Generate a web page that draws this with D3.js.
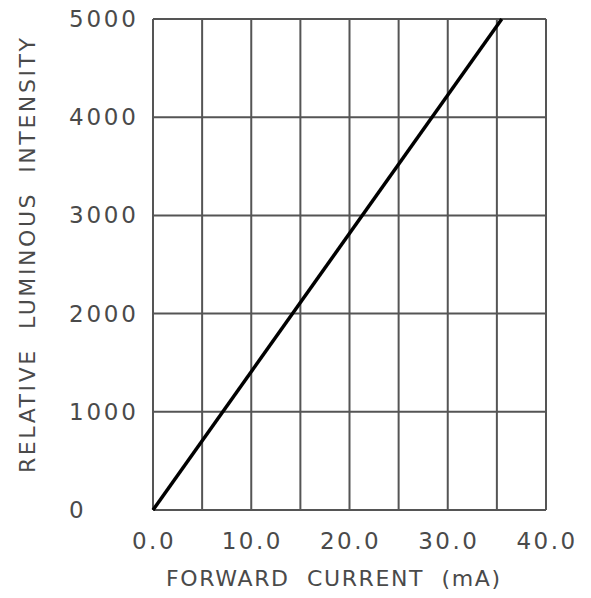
<!DOCTYPE html>
<html>
<head>
<meta charset="utf-8">
<script src="https://cdn.jsdelivr.net/npm/d3@7"></script>
<style>
  body { margin: 0; background: #fff; }
  text { font-family: "DejaVu Sans", sans-serif; fill: #4a4a4a; white-space: pre; }
</style>
</head>
<body>
<svg id="chart" width="591" height="598"></svg>
<script>
// forward current (mA) vs relative luminous intensity
let currents = [0, 35.5]
let intensities = [0, 5000]

let xTicks = [0, 10, 20, 30, 40]
let xGrid = [0, 5, 10, 15, 20, 25, 30, 35, 40]
let yTicks = [0, 1000, 2000, 3000, 4000, 5000]

let xTitle = "FORWARD  CURRENT  (mA)"
let yTitle = "RELATIVE  LUMINOUS  INTENSITY"

let svg = d3.select("#chart")

let margin = {left: 153, right: 45, top: 19, bottom: 88}
let width = 591 - margin.left - margin.right
let height = 598 - margin.top - margin.bottom

let xScale = d3.scaleLinear([0, 40], [margin.left, margin.left + width])
let yScale = d3.scaleLinear([0, 5000], [margin.top + height, margin.top])

// grid
svg.selectAll(".vgrid")
    .data(xGrid)
    .enter()
    .append("line")
    .attr("x1", d => xScale(d))
    .attr("x2", d => xScale(d))
    .attr("y1", yScale(0))
    .attr("y2", yScale(5000))
    .attr("stroke", "#555")
    .attr("stroke-width", 2)

svg.selectAll(".hgrid")
    .data(yTicks)
    .enter()
    .append("line")
    .attr("x1", xScale(0))
    .attr("x2", xScale(40))
    .attr("y1", d => yScale(d))
    .attr("y2", d => yScale(d))
    .attr("stroke", "#555")
    .attr("stroke-width", 2)

// tick labels
svg.selectAll(".xlab")
    .data(xTicks)
    .enter()
    .append("text")
    .attr("x", d => xScale(d) + 1)
    .attr("y", 549)
    .attr("text-anchor", "middle")
    .attr("font-size", 23)
    .attr("letter-spacing", 2.5)
    .text(d => d.toFixed(1))

svg.selectAll(".ylab")
    .data(yTicks)
    .enter()
    .append("text")
    .attr("x", 69)
    .attr("y", d => yScale(d) + 8)
    .attr("font-size", 23)
    .attr("letter-spacing", 2.8)
    .text(d => d)

// titles
svg.append("text")
    .attr("x", 166)
    .attr("y", 586)
    .attr("font-size", 22)
    .attr("textLength", 334)
    .attr("lengthAdjust", "spacing")
    .text(xTitle)

svg.append("text")
    .attr("transform", `translate(35, 473) rotate(-90)`)
    .attr("font-size", 22)
    .attr("textLength", 435)
    .attr("lengthAdjust", "spacing")
    .text(yTitle)

// curve
let line = d3.line()
    .x(d => xScale(d[0]))
    .y(d => yScale(d[1]))

svg.append("path")
    .datum(d3.zip(currents, intensities))
    .attr("d", line)
    .attr("fill", "none")
    .attr("stroke", "#000")
    .attr("stroke-width", 3.5)
</script>
</body>
</html>
